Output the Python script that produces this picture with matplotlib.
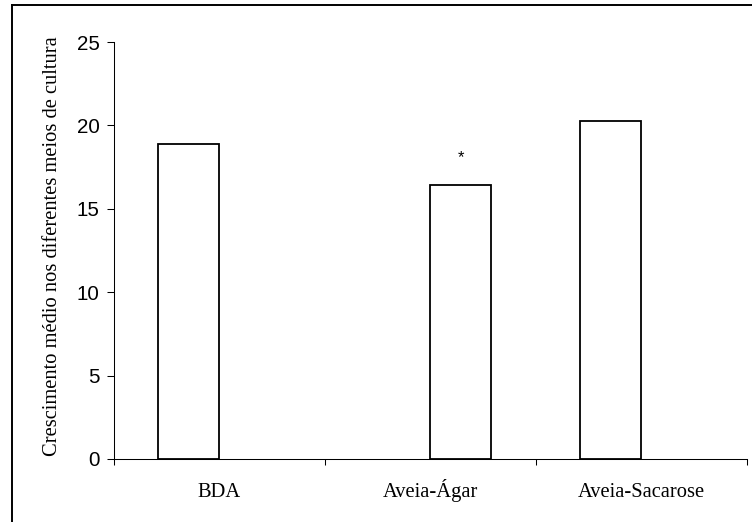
import matplotlib.pyplot as plt
from matplotlib.lines import Line2D

# dados
meios = ['BDA', 'Aveia-Ágar', 'Aveia-Sacarose']
crescimento = [18.9, 16.45, 20.25]
desvio = [-0.5, 0.5, -0.5]   # deslocamento das barras em relação ao centro da categoria
marcas = ['', '*', '']

fig = plt.figure(figsize=(7.52, 5.22), dpi=100)
ax = fig.add_axes([113.5 / 752, 63 / 522, 633 / 752, 417 / 522])

centros = [i + 0.5 for i in range(len(meios))]
xb = [c + d * 0.29 for c, d in zip(centros, desvio)]

ax.bar(xb, crescimento, width=0.29, facecolor='white',
       edgecolor='black', linewidth=1.3, zorder=3)

for x, y, m in zip(xb, crescimento, marcas):
        if m:
                ax.text(x, y + 1.6, m, ha='center', va='center',
                        fontsize=12, family='Liberation Sans')

ax.set_xlim(0, 3)
ax.set_ylim(0, 25)
ax.set_yticks(range(0, 26, 5))
ax.set_xticks([0, 1, 2, 3])
ax.set_xticklabels([])
for c, nome in zip(centros, meios):
        ax.text(c, -2.3, nome, ha='center', va='baseline', fontsize=14.8,
                family='Liberation Serif')

for lab in ax.get_yticklabels():
        lab.set_family('Liberation Sans')
        lab.set_fontsize(14.8)

ax.tick_params(axis='y', direction='out', length=4.7, width=0.75, pad=5.2)
ax.tick_params(axis='x', direction='out', length=4.3, width=0.75)
for s in ['top', 'right']:
        ax.spines[s].set_visible(False)
for s in ['left', 'bottom']:
        ax.spines[s].set_linewidth(0.75)

fig.text(53 / 752, 1 - 246 / 522,
         'Crescimento médio nos diferentes meios de cultura',
         rotation=90, ha='center', va='center',
         family='Liberation Serif', fontsize=14.8)

# moldura (apenas esquerda e topo visíveis)
fig.add_artist(Line2D([12 / 752, 12 / 752], [0, 1 - 4.5 / 522],
                      transform=fig.transFigure, color='black', linewidth=1.4))
fig.add_artist(Line2D([12 / 752, 1.0], [1 - 4.5 / 522, 1 - 4.5 / 522],
                      transform=fig.transFigure, color='black', linewidth=1.4))

fig.savefig('out.png', dpi=100)
